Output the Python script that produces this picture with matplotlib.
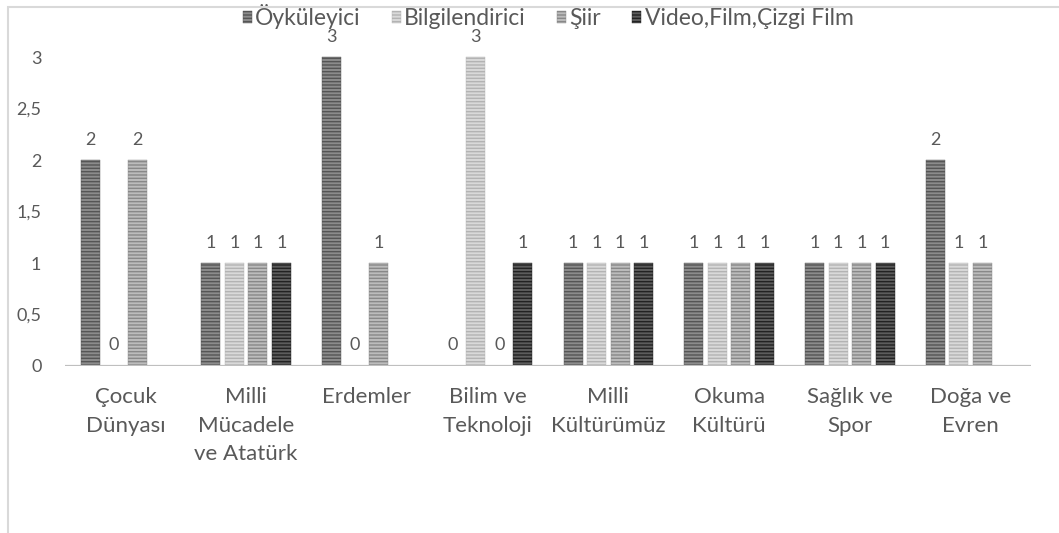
import numpy as np
import matplotlib
matplotlib.use("Agg")
import matplotlib.pyplot as plt
from matplotlib.patches import Rectangle

plt.rcParams['font.family'] = ['Lato', 'DejaVu Sans']
plt.rcParams['hatch.linewidth'] = 1.0

# veriler
categories = ["Çocuk\nDünyası", "Milli\nMücadele\nve Atatürk", "Erdemler", "Bilim ve\nTeknoloji",
              "Milli\nKültürümüz", "Okuma\nKültürü", "Sağlık ve\nSpor", "Doğa ve\nEvren"]
series = ["Öyküleyici", "Bilgilendirici", "Şiir", "Video,Film,Çizgi Film"]
oykuleyici = [2, 1, 3, 0, 1, 1, 1, 2]
bilgilendirici = [0, 1, 0, 3, 1, 1, 1, 1]
siir = [2, 1, 1, 0, 1, 1, 1, 1]
video = [np.nan, 1, np.nan, 1, 1, 1, 1, np.nan]
yticks = [0, 0.5, 1, 1.5, 2, 2.5, 3]
ytick_labels = ["0", "0,5", "1", "1,5", "2", "2,5", "3"]

values = [oykuleyici, bilgilendirici, siir, video]
faces = ["#8c8c8c", "#d9d9d9", "#bcbcbc", "#5c5c5c"]
hatchc = ["#555555", "#b3b3b3", "#888888", "#222222"]
text_col = "#595959"

W, H = 1059, 533
fig = plt.figure(figsize=(W / 100, H / 100), dpi=100)
ax = fig.add_axes([65 / W, 1 - 366 / H, (1031 - 65) / W, 3.4 * 103 / H])

x = np.arange(len(categories))
pitch = 0.195
width = 0.158
for i, (s, v) in enumerate(zip(series, values)):
    pos = x + (i - 1.5) * pitch
    ax.bar(pos, v, width, color=faces[i], edgecolor=hatchc[i], linewidth=0.3,
           hatch='-----', label=s, zorder=2)
    for p, val in zip(pos, v):
        if not np.isnan(val):
            ax.annotate(str(int(val)), (p, val), xytext=(0, 9), textcoords='offset points',
                        ha='center', va='bottom', fontsize=13, color=text_col, zorder=5)

ax.axhline(0, color="#bfbfbf", lw=2.3, zorder=3)
ax.set_xlim(-0.5, len(categories) - 0.5)
ax.set_ylim(0, 3.4)
ax.set_yticks(yticks)
ax.set_yticklabels(ytick_labels)
ax.set_xticks(x)
ax.set_xticklabels(categories, linespacing=1.55)
ax.tick_params(axis='y', length=0, pad=17, labelsize=13, labelcolor=text_col)
ax.tick_params(axis='x', length=0, pad=15, labelsize=16, labelcolor=text_col)
for sp in ax.spines.values():
    sp.set_visible(False)

leg = ax.legend(loc='center', bbox_to_anchor=(0.5, 0.997), ncol=4, frameon=False,
                fontsize=16.5, handlelength=0.4, handleheight=0.4, handletextpad=0.15,
                columnspacing=1.35, borderaxespad=0.0, borderpad=0.0)
for t in leg.get_texts():
    t.set_color(text_col)
leg.set_zorder(1)

# dış çerçeve
fig.patches.append(Rectangle((8 / W, -0.1), 1.2, 1 - 7 / H + 0.1, transform=fig.transFigure,
                             fill=False, edgecolor="#d9d9d9", lw=1.5))

fig.savefig("out.png", dpi=100)
